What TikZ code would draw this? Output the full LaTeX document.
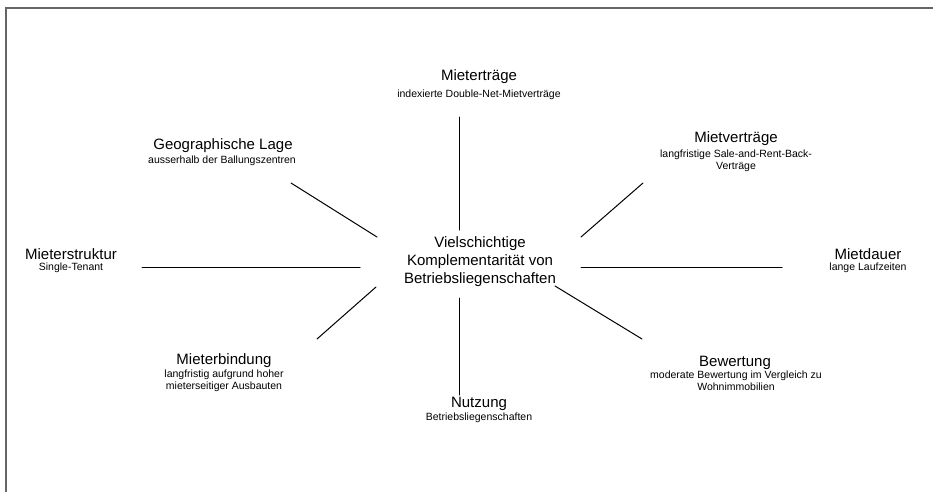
\documentclass[tikz,border=0pt]{standalone}
\usepackage{fontspec}
\setmainfont{Liberation Sans}
\definecolor{FrameGray}{HTML}{666666}
\tikzset{ttl/.style={inner sep=0pt,font=\fontsize{15}{18}\selectfont,align=center},
  sub/.style={inner sep=0pt,font=\fontsize{10.5}{12}\selectfont,align=center}}

\begin{document}
\begin{tikzpicture}[x=1pt,y=-1pt,line cap=round]
  \useasboundingbox (0,0) rectangle (933,492);
  \draw[FrameGray,line width=1.5pt,line cap=butt] (6,492)--(6,8)--(933,8);
  \node[ttl] (core) at (480,262) {Vielschichtige\\Komplementarität von\\Betriebsliegenschaften};
  % labels
  \node[ttl] (ertrag) at (479,77) {Mieterträge}; \node[sub] (ertragS) at (479,95) {indexierte Double-Net-Mietverträge};
  \node[ttl] (lage) at (223,146) {Geographische Lage}; \node[sub] (lageS) at (222,161) {ausserhalb der Ballungszentren};
  \node[ttl] (vertrag) at (736,139) {Mietverträge}; \node[sub] (vertragS) at (736,161) {langfristige Sale-and-Rent-Back-\\Verträge};
  \node[ttl] (struktur) at (71,254) {Mieterstruktur}; \node[sub] (strukturS) at (71,268) {Single-Tenant};
  \node[ttl] (dauer) at (868,254) {Mietdauer}; \node[sub] (dauerS) at (868,268) {lange Laufzeiten};
  \node[ttl] (bindung) at (224,361) {Mieterbindung}; \node[sub] (bindungS) at (224,381) {langfristig aufgrund hoher\\mieterseitiger Ausbauten};
  \node[ttl] (bewert) at (735,363) {Bewertung}; \node[sub] (bewertS) at (736,381) {moderate Bewertung im Vergleich zu\\Wohnimmobilien};
  \node[ttl] (nutzung) at (479,404) {Nutzung}; \node[sub] (nutzungS) at (479,418) {Betriebsliegenschaften};
  % connectors
  \coordinate (nA) at (459,117); \coordinate (nB) at (459,230); \coordinate (uA) at (459,395); \coordinate (uB) at (459,298);
  \coordinate (gA) at (291,183); \coordinate (gB) at (377,237); \coordinate (vA) at (643,183); \coordinate (vB) at (581,237);
  \coordinate (sA) at (142,267); \coordinate (sB) at (360,267); \coordinate (dA) at (782,267.5); \coordinate (dB) at (581,267.5);
  \coordinate (bA) at (317,339); \coordinate (bB) at (376,287); \coordinate (wA) at (642,339); \coordinate (wB) at (555,286);
  \draw[line width=1pt] (nA)--(nB); \draw[line width=1pt] (uA)--(uB);
  \draw[line width=1pt] (gA)--(gB); \draw[line width=1pt] (vA)--(vB);
  \draw[line width=1pt] (sA)--(sB); \draw[line width=1pt] (dA)--(dB);
  \draw[line width=1pt] (bA)--(bB); \draw[line width=1pt] (wA)--(wB);
\end{tikzpicture}
\end{document}
